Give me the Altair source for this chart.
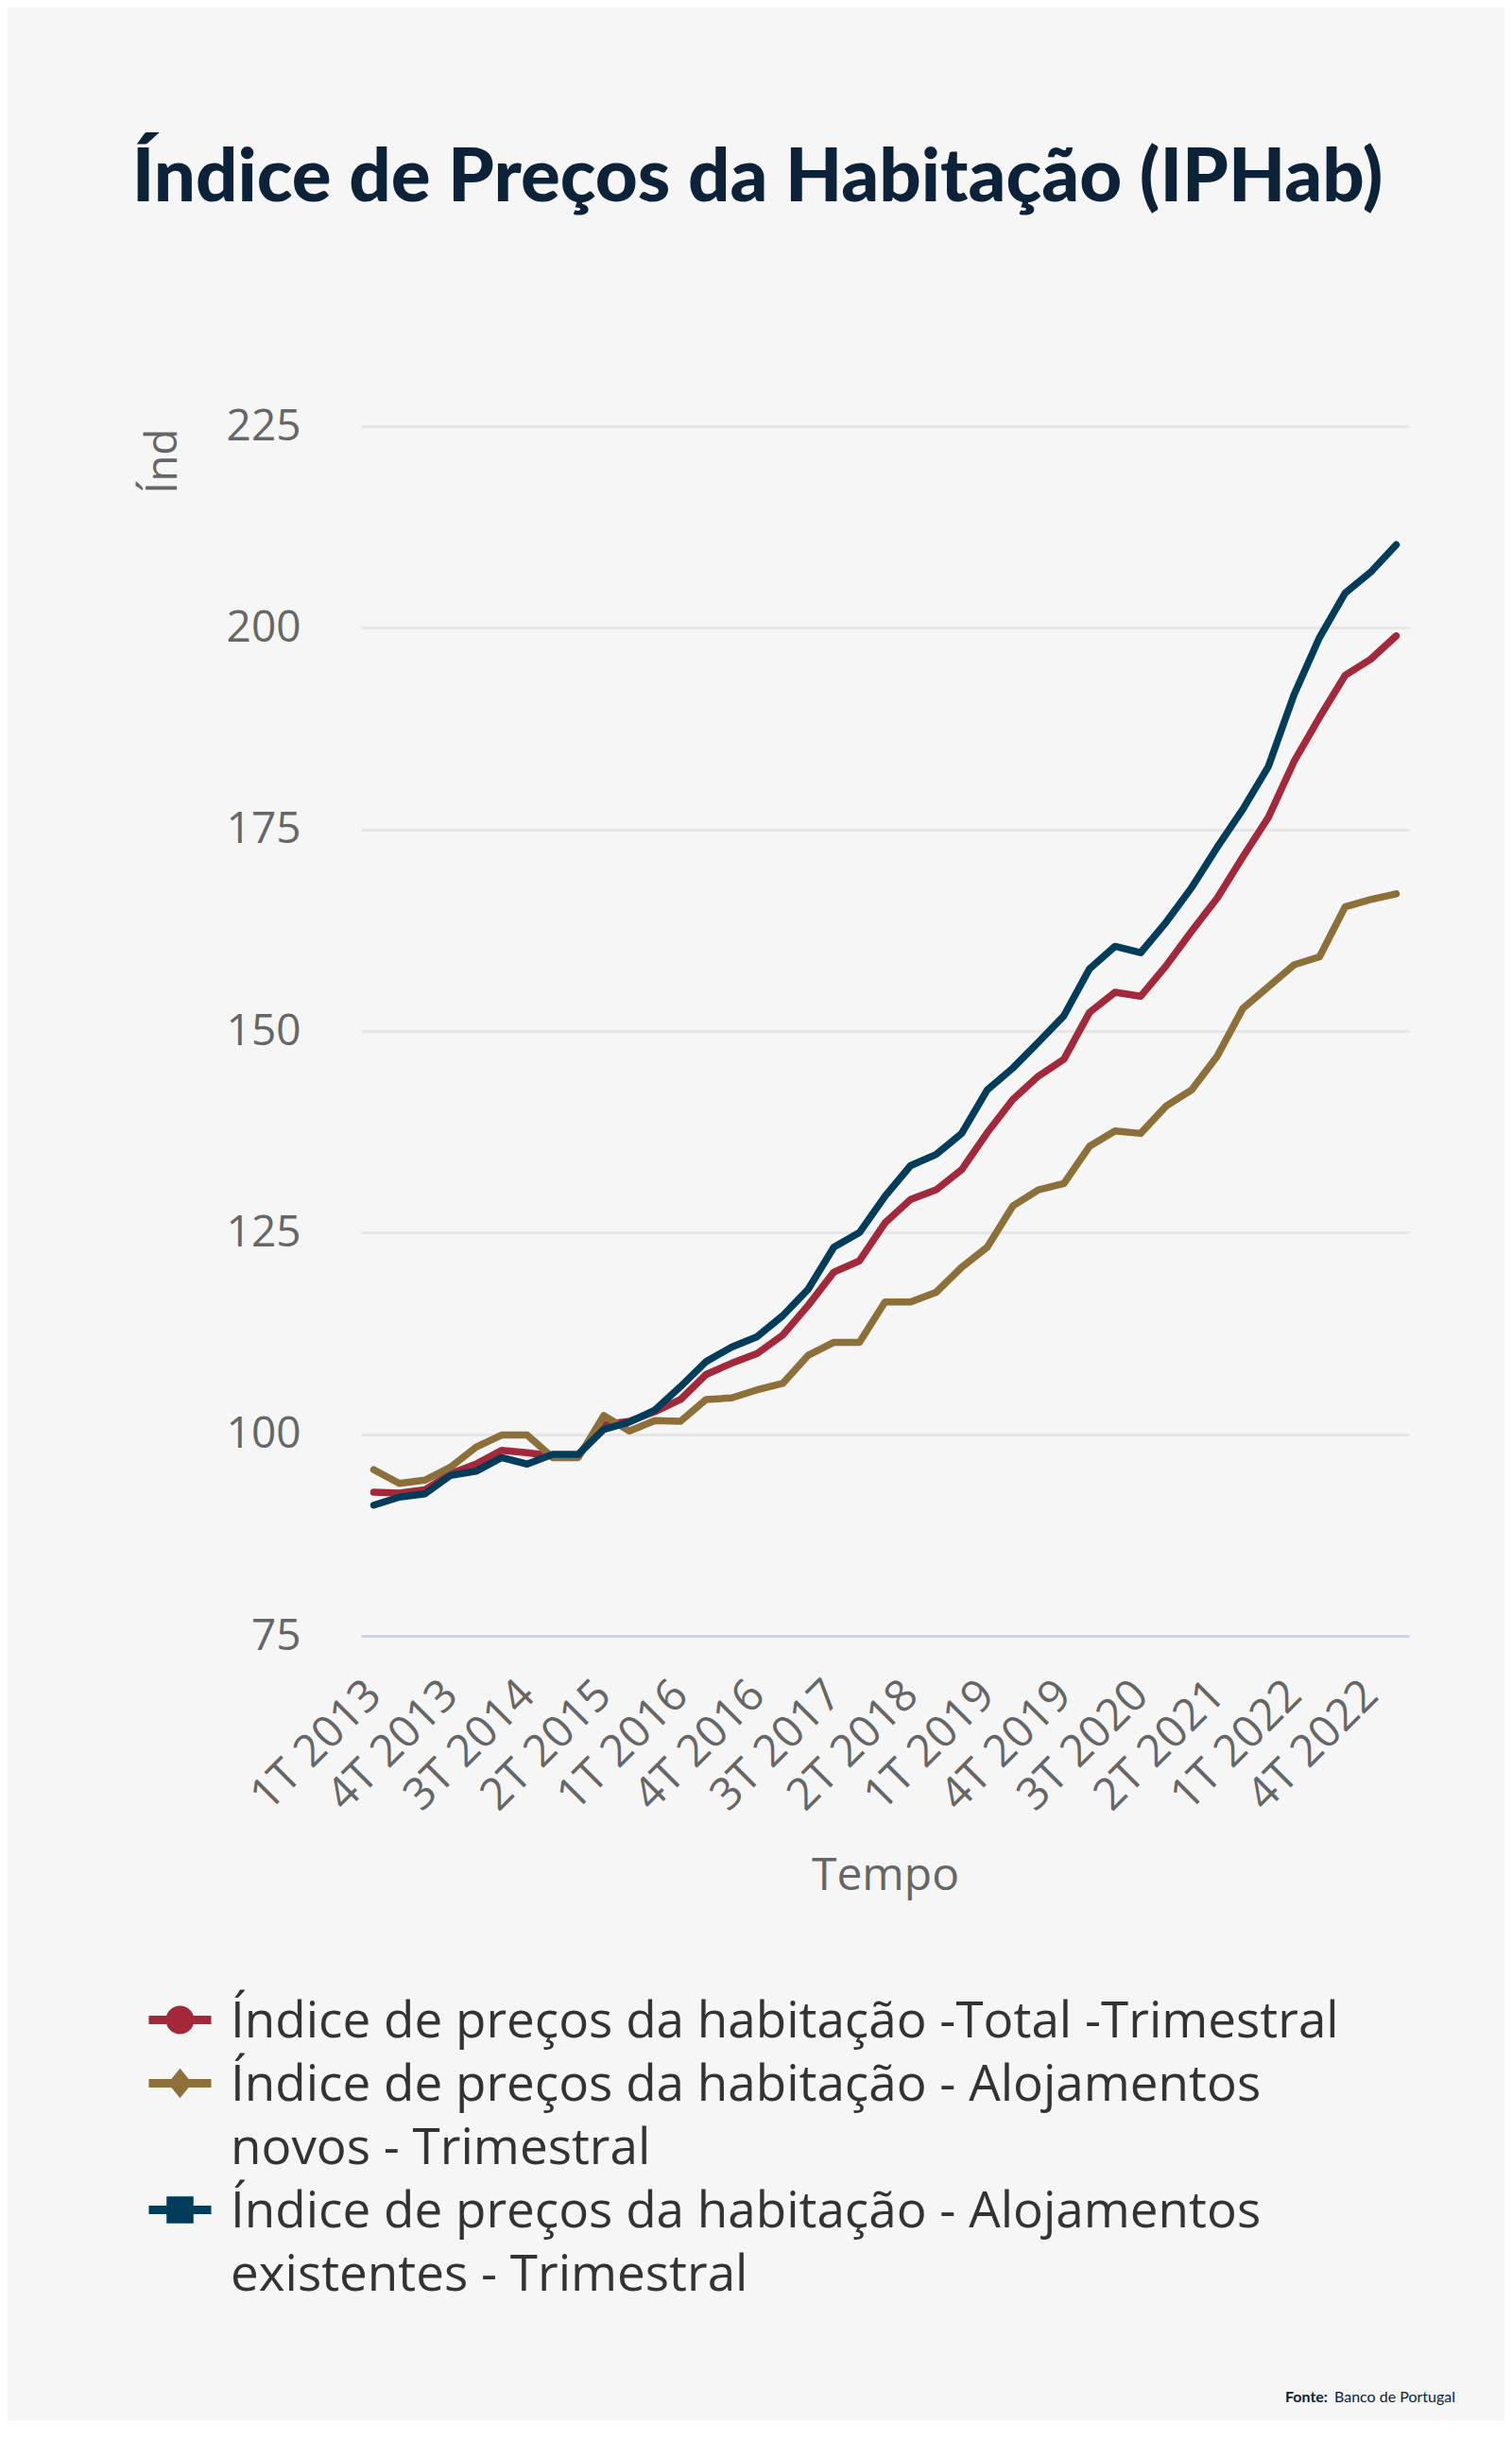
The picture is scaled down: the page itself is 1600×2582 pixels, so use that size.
import altair as alt
import pandas as pd

# Quarter labels 1T 2013 .. 1T 2023 (41 quarters)
quarters = [
    "1T 2013", "2T 2013", "3T 2013", "4T 2013",
    "1T 2014", "2T 2014", "3T 2014", "4T 2014",
    "1T 2015", "2T 2015", "3T 2015", "4T 2015",
    "1T 2016", "2T 2016", "3T 2016", "4T 2016",
    "1T 2017", "2T 2017", "3T 2017", "4T 2017",
    "1T 2018", "2T 2018", "3T 2018", "4T 2018",
    "1T 2019", "2T 2019", "3T 2019", "4T 2019",
    "1T 2020", "2T 2020", "3T 2020", "4T 2020",
    "1T 2021", "2T 2021", "3T 2021", "4T 2021",
    "1T 2022", "2T 2022", "3T 2022", "4T 2022",
    "1T 2023",
]
tick_labels = quarters[::3]

total = [92.8, 92.7, 93.1, 95.1, 96.3, 98.0, 97.7, 97.3, 97.4, 101.2,
         101.6, 102.8, 104.3, 107.4, 108.8, 110.0, 112.3, 116.0, 120.1, 121.5,
         126.2, 129.1, 130.3, 132.8, 137.4, 141.5, 144.4, 146.5, 152.3, 154.8,
         154.3, 158.1, 162.4, 166.5, 171.6, 176.5, 183.4, 188.9, 194.1, 196.1,
         199.0]
novos = [95.6, 93.9, 94.3, 95.9, 98.4, 99.9, 99.9, 97.1, 97.1, 102.3,
         100.4, 101.7, 101.6, 104.3, 104.5, 105.5, 106.3, 109.8, 111.4, 111.4,
         116.4, 116.4, 117.6, 120.7, 123.2, 128.3, 130.3, 131.1, 135.7, 137.6,
         137.3, 140.7, 142.7, 146.9, 152.8, 155.5, 158.2, 159.2, 165.4, 166.3,
         167.0]
existentes = [91.2, 92.2, 92.6, 94.9, 95.4, 97.1, 96.3, 97.5, 97.5, 100.6,
              101.5, 103.0, 105.9, 109.0, 110.8, 112.1, 114.7, 118.0, 123.2, 125.0,
              129.5, 133.3, 134.7, 137.3, 142.7, 145.4, 148.6, 151.9, 157.7, 160.5,
              159.7, 163.5, 167.8, 172.8, 177.5, 182.8, 191.7, 198.8, 204.3, 206.9,
              210.3]

series = [
    "Índice de preços da habitação -Total -Trimestral",
    "Índice de preços da habitação - Alojamentos novos - Trimestral",
    "Índice de preços da habitação - Alojamentos existentes - Trimestral",
]
colors = ["#a3283a", "#8d7039", "#013d5a"]

# legend symbols: line + marker (circle, diamond, square), shifted up to text centre
sy = -1.2
line_part = f"M-2.2,{sy-0.3}H2.2V{sy+0.3}H-2.2Z"
circle = f"M-1,{sy}A1,1 0 1,1 1,{sy}A1,1 0 1,1 -1,{sy}Z"
diamond = f"M0,{sy-1.05}L0.85,{sy}L0,{sy+1.05}L-0.85,{sy}Z"
square = f"M-0.95,{sy-0.95}H0.95V{sy+0.95}H-0.95Z"
shapes = [line_part + circle, line_part + diamond, line_part + square]

rows = []
for name, vals in zip(series, [total, novos, existentes]):
    for q, v in zip(quarters, vals):
        rows.append({"Tempo": q, "valor": v, "serie": name})
df = pd.DataFrame(rows)

x_enc = alt.X(
    "Tempo:N", sort=quarters,
    scale=alt.Scale(type="point", padding=0.5),
    axis=alt.Axis(
        values=tick_labels, labelAngle=-45, labelAlign="right", labelBaseline="middle",
        labelFont="Open Sans", labelFontSize=47, labelColor="#666666", labelPadding=55,
        ticks=False, grid=False, domainColor="#ccd6eb", domainWidth=3, zindex=1,
        title="Tempo", titleFont="Open Sans", titleFontSize=48, titleFontWeight="normal",
        titleColor="#666666", titlePadding=37, labelOverlap=False,
    ),
)
y_enc = alt.Y(
    "valor:Q",
    scale=alt.Scale(domain=[75, 225], nice=False, zero=False),
    axis=alt.Axis(
        values=[75, 100, 125, 150, 175, 200, 225],
        labelFont="Open Sans", labelFontSize=46, labelColor="#666666", labelPadding=64,
        ticks=False, domain=False, grid=True, gridColor="#e6e6e6", gridWidth=3,
        title="Índ", titleFont="Open Sans", titleFontSize=46, titleFontWeight="normal",
        titleColor="#666666", titleAngle=270, titleAlign="right", titleBaseline="alphabetic",
        titleX=-196, titleY=2,
    ),
)

legend = alt.Legend(
    title=None, orient="none", legendX=-218, legendY=1678, direction="vertical",
    labelFont="Open Sans", labelFontSize=53, labelColor="#333333", labelLimit=3000,
    labelBaseline="alphabetic", labelOffset=27, symbolSize=900, symbolStrokeWidth=0,
    symbolOpacity=1, rowPadding=13, padding=0,
    labelExpr="indexof(datum.label, 'Alojamentos ') > 0 ? split(replace(datum.label, 'Alojamentos ', 'Alojamentos|'), '|') : datum.label",
)

lines = alt.Chart(df).mark_line(strokeWidth=7.5, strokeJoin="round", strokeCap="round").encode(
    x=x_enc, y=y_enc,
    stroke=alt.Stroke("serie:N", scale=alt.Scale(domain=series, range=colors), legend=None),
)
points = alt.Chart(df).mark_point(filled=True, opacity=0).encode(
    x=x_enc, y=y_enc,
    color=alt.Color("serie:N", scale=alt.Scale(domain=series, range=colors), legend=legend),
    shape=alt.Shape("serie:N", scale=alt.Scale(domain=series, range=shapes), legend=legend),
)

foot_a = alt.Chart(pd.DataFrame({"t": ["Fonte:"]})).mark_text(
    align="left", baseline="middle", font="Lato", fontSize=16, fontWeight="bold", color="#0b2239"
).encode(x=alt.value(978), y=alt.value(2086), text="t:N")
foot_b = alt.Chart(pd.DataFrame({"t": ["Banco de Portugal"]})).mark_text(
    align="left", baseline="middle", font="Lato", fontSize=16, color="#0b2239"
).encode(x=alt.value(1030), y=alt.value(2086), text="t:N")

chart = alt.layer(lines, points, foot_a, foot_b).resolve_scale(
    stroke="independent"
).properties(
    width=1109, height=1280,
    padding={"left": 374, "top": 443, "right": 101, "bottom": 830},
    autosize=alt.AutoSizeParams(type="none"),
    background="#f6f6f6",
    title=alt.TitleParams(
        "Índice de Preços da Habitação (IPHab)", font="Lato", fontSize=78,
        fontWeight=900, color="#0b2239", anchor="middle", dx=-135, offset=199,
    ),
).configure(
    style={"guide-label": {"lineHeight": 67.5}}
).configure_view(stroke=None)

chart.save("out.html", embed_options={"renderer": "svg", "actions": False})
